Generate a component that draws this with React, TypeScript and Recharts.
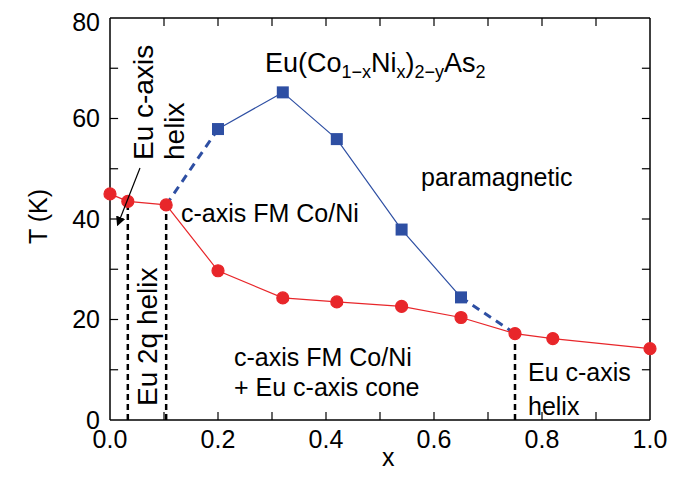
import React from "react";
import { LineChart, Line, XAxis, YAxis, ReferenceLine } from "recharts";

const redX = [0, 0.033, 0.104, 0.2, 0.32, 0.42, 0.54, 0.65, 0.75, 0.82, 1.0];
const redT = [45, 43.5, 42.8, 29.7, 24.3, 23.5, 22.6, 20.4, 17.2, 16.2, 14.2];
const blueX = [0.2, 0.32, 0.42, 0.54, 0.65];
const blueT = [57.9, 65.2, 55.9, 37.9, 24.4];
const dashLeftX = [0.104, 0.2];
const dashLeftT = [42.8, 57.9];
const dashRightX = [0.65, 0.75];
const dashRightT = [24.4, 17.2];
const phaseLineX = [0.033, 0.104, 0.75];
const phaseLineT = [43.5, 42.8, 17.2];
const xTicks = [0, 0.2, 0.4, 0.6, 0.8, 1.0];
const yTicks = [0, 20, 40, 60, 80];
const xMinor = [0.1, 0.2, 0.3, 0.4, 0.5, 0.6, 0.7, 0.8, 0.9];
const yMinor = [10, 20, 30, 40, 50, 60, 70];

const toRows = (xs: number[], ys: number[]) => xs.map((x, i) => ({ x, T: ys[i] }));

const RED = "#e8262a";
const BLUE = "#2e4fa3";
const font = "'Liberation Sans', Arial, sans-serif";

const Square = (props: any) => {
  const { cx, cy } = props;
  return <rect x={cx - 6} y={cy - 6} width={12} height={12} fill={BLUE} />;
};

const txt = (s: React.CSSProperties): React.CSSProperties => ({
  position: "absolute",
  fontSize: 25,
  fontFamily: font,
  color: "#000",
  whiteSpace: "nowrap",
  lineHeight: 1,
  ...s,
});

// rotated -90deg, (left, bottom) is where the text starts
const up = (left: number, bottom: number, size = 28): React.CSSProperties =>
  txt({ left, top: bottom, fontSize: size, transform: "rotate(-90deg)", transformOrigin: "left top" });

export default function App() {
  const tick = { fontSize: 25, fill: "#000", fontFamily: font };
  const tk = { stroke: "#000", strokeWidth: 1.2 };
  return (
    <div style={{ position: "relative", width: 676, height: 477, background: "#fff" }}>
      <LineChart width={676} height={477} margin={{ top: 10, right: 34, left: 0, bottom: 0 }}>
        <XAxis
          dataKey="x"
          type="number"
          domain={[0, 1]}
          ticks={xTicks}
          tickFormatter={(v) => v.toFixed(1)}
          height={65}
          tick={tick}
          stroke="#000"
          strokeWidth={1.5}
          tickSize={8}
          tickLine={false}
          allowDuplicatedCategory={false}
        />
        <YAxis
          dataKey="T"
          type="number"
          domain={[0, 80]}
          ticks={yTicks}
          width={102}
          tick={tick}
          stroke="#000"
          strokeWidth={1.5}
          tickSize={8}
          tickLine={false}
        />
        <ReferenceLine y={80} stroke="#000" strokeWidth={1.5} />
        <ReferenceLine x={1} stroke="#000" strokeWidth={1.5} />
        {xMinor.map((x) => (
          <ReferenceLine key={"xb" + x} segment={[{ x, y: 0 }, { x, y: 1.6 }]} {...tk} />
        ))}
        {xMinor.map((x) => (
          <ReferenceLine key={"xt" + x} segment={[{ x, y: 80 }, { x, y: 78.4 }]} {...tk} />
        ))}
        {yMinor.map((y) => (
          <ReferenceLine key={"yl" + y} segment={[{ x: 0, y }, { x: 0.015, y }]} {...tk} />
        ))}
        {yMinor.map((y) => (
          <ReferenceLine key={"yr" + y} segment={[{ x: 1, y }, { x: 0.985, y }]} {...tk} />
        ))}
        {phaseLineX.map((x, i) => (
          <ReferenceLine
            key={i}
            segment={[{ x, y: 0 }, { x, y: phaseLineT[i] }]}
            stroke="#000"
            strokeWidth={2.5}
            strokeDasharray="6 4"
          />
        ))}
        <Line data={toRows(dashLeftX, dashLeftT)} dataKey="T" stroke={BLUE} strokeWidth={3} strokeDasharray="8 6" dot={false} isAnimationActive={false} />
        <Line data={toRows(dashRightX, dashRightT)} dataKey="T" stroke={BLUE} strokeWidth={3} strokeDasharray="8 6" dot={false} isAnimationActive={false} />
        <Line data={toRows(blueX, blueT)} dataKey="T" stroke={BLUE} strokeWidth={1.2} dot={<Square />} isAnimationActive={false} />
        <Line data={toRows(redX, redT)} dataKey="T" stroke={RED} strokeWidth={1.2} dot={{ r: 6, fill: RED, stroke: RED }} isAnimationActive={false} />
      </LineChart>
      <div style={up(18, 236, 25)}>T (K)</div>
      <div style={txt({ left: 374, top: 437 })}>x</div>
      <div style={txt({ left: 257, top: 42, fontSize: 27 })}>
        Eu(Co<sub style={{ fontSize: 18 }}>1−x</sub>Ni<sub style={{ fontSize: 18 }}>x</sub>)<sub style={{ fontSize: 18 }}>2−y</sub>As<sub style={{ fontSize: 18 }}>2</sub>
      </div>
      <div style={up(122, 152)}>Eu c-axis</div>
      <div style={up(153, 152)}>helix</div>
      <div style={up(126, 398)}>Eu 2q helix</div>
      <svg style={{ position: "absolute", left: 0, top: 0 }} width={676} height={477}>
        <defs>
          <marker id="ah" markerWidth="8" markerHeight="8" refX="6" refY="4" orient="auto">
            <path d="M0,0 L8,4 L0,8 z" fill="#000" />
          </marker>
        </defs>
        <line x1={132} y1={160} x2={110} y2={216} stroke="#000" strokeWidth={1.2} markerEnd="url(#ah)" />
      </svg>
      <div style={txt({ left: 173, top: 193 })}>c-axis FM Co/Ni</div>
      <div style={txt({ left: 413, top: 157 })}>paramagnetic</div>
      <div style={txt({ left: 226, top: 337 })}>c-axis FM Co/Ni</div>
      <div style={txt({ left: 226, top: 367 })}>+ Eu c-axis cone</div>
      <div style={txt({ left: 520, top: 352 })}>Eu c-axis</div>
      <div style={txt({ left: 520, top: 386 })}>helix</div>
    </div>
  );
}
